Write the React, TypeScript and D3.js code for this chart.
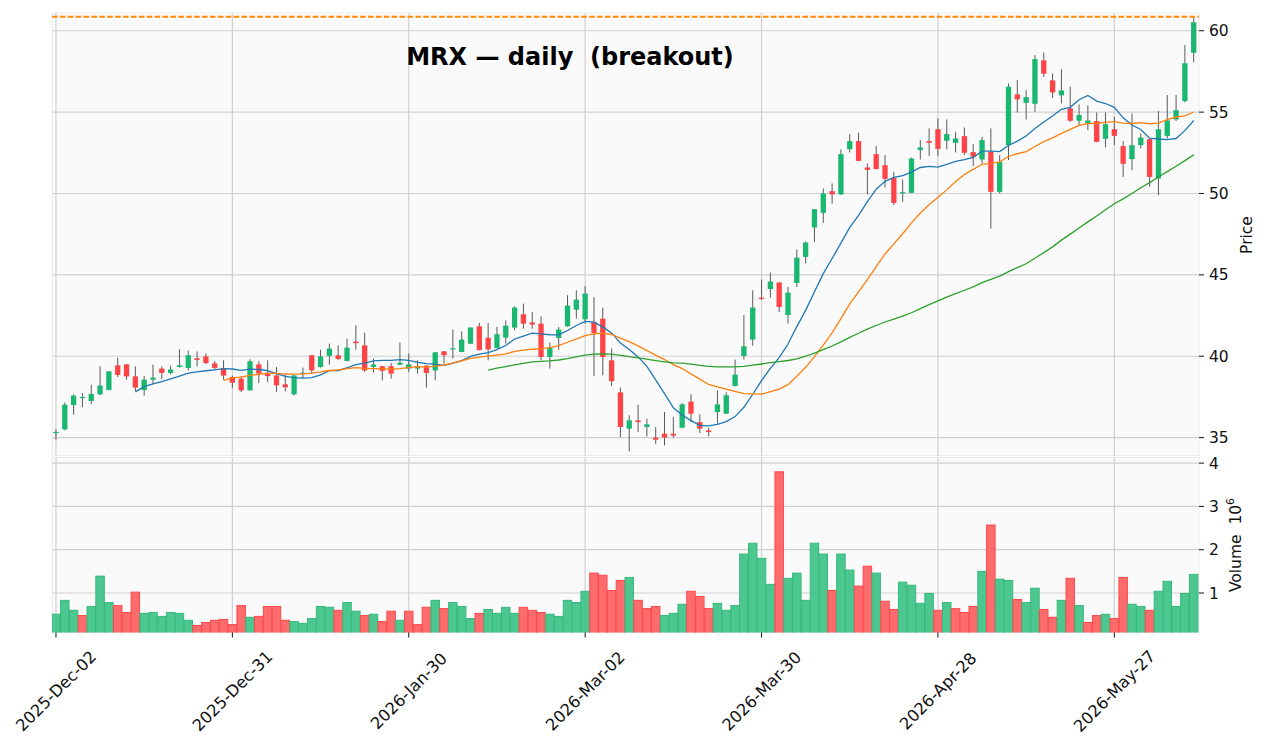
import * as d3 from "d3";

// OHLC, one value per trading day
const opens = [
  35.28, 35.5, 37.0, 37.45, 37.25, 37.66, 37.92, 39.44, 39.5, 38.76,
  37.92, 38.56, 39.24, 38.97, 39.34, 39.28, 39.87, 39.99, 39.56, 39.28,
  38.72, 38.62, 37.9, 39.5, 38.99, 38.82, 38.27, 37.66, 38.93, 40.06,
  39.34, 40.02, 40.06, 39.71, 40.9, 40.67, 39.34, 39.38, 39.38, 39.48,
  39.24, 39.24, 39.42, 39.13, 40.3, 40.45, 40.26, 40.77, 41.84, 41.14,
  40.5, 41.14, 41.76, 42.58, 42.08, 42.0, 39.95, 41.12, 41.84, 42.86,
  42.27, 42.1, 42.31, 39.75, 37.78, 35.55, 36.06, 35.65, 35.0, 35.24,
  35.24, 35.61, 37.21, 35.95, 35.44, 36.57, 36.47, 38.17, 40.01, 41.02,
  43.6, 44.13, 44.53, 42.53, 44.5, 46.1, 47.91, 48.81, 50.14, 49.94,
  52.72, 53.22, 51.6, 52.42, 51.74, 50.96, 50.03, 50.04, 52.66, 53.22,
  53.95, 53.24, 53.11, 53.52, 52.54, 52.09, 52.56, 50.1, 52.97, 56.09,
  55.57, 55.51, 58.18, 56.95, 56.03, 55.23, 54.47, 54.32, 54.45, 53.36,
  53.95, 52.91, 52.11, 52.97, 53.34, 50.92, 53.54, 54.55, 55.68, 58.65,
];
const highs = [
  35.5, 37.15, 37.66, 37.74, 38.25, 39.38, 39.1, 39.91, 39.52, 39.38,
  38.78, 39.49, 39.38, 39.42, 40.43, 40.35, 40.29, 40.17, 39.71, 39.75,
  38.8, 38.78, 39.81, 39.69, 39.75, 39.34, 38.93, 38.85, 39.3, 40.08,
  40.4, 40.77, 40.67, 41.08, 41.9, 41.45, 39.85, 39.4, 39.58, 40.84,
  40.16, 39.75, 39.45, 40.26, 40.32, 41.64, 41.53, 41.78, 42.04, 42.04,
  41.8, 42.2, 43.07, 43.23, 42.72, 42.45, 40.84, 41.8, 43.75, 44.05,
  44.3, 43.63, 42.99, 40.47, 38.07, 36.37, 37.02, 36.16, 35.65, 36.57,
  36.26, 37.12, 37.66, 36.43, 35.61, 37.9, 37.78, 39.79, 42.52, 44.05,
  44.71, 45.14, 44.55, 44.26, 46.56, 47.05, 49.05, 50.31, 50.62, 52.71,
  53.65, 53.75, 51.84, 52.91, 52.36, 51.33, 50.86, 52.2, 53.28, 54.0,
  54.61, 54.55, 53.79, 54.06, 53.03, 53.48, 54.0, 52.36, 56.76, 56.97,
  56.35, 58.51, 58.67, 57.38, 57.64, 56.56, 55.47, 55.41, 54.98, 54.98,
  54.71, 53.22, 54.92, 53.69, 53.36, 55.06, 56.05, 56.05, 59.12, 60.86,
];
const lows = [
  34.87, 35.45, 36.41, 36.88, 37.07, 37.6, 37.9, 38.72, 38.56, 37.86,
  37.58, 38.31, 38.6, 38.87, 39.3, 39.13, 39.38, 39.52, 39.18, 38.56,
  38.04, 37.8, 37.88, 38.35, 38.41, 37.8, 37.84, 37.58, 38.66, 38.93,
  39.3, 39.48, 39.75, 39.69, 40.4, 39.03, 39.0, 38.52, 38.62, 39.45,
  39.03, 38.93, 38.07, 38.52, 39.54, 39.85, 40.24, 40.75, 40.36, 39.75,
  40.48, 40.77, 41.59, 41.69, 41.69, 39.75, 39.24, 40.4, 41.82, 42.31,
  42.0, 38.78, 38.83, 38.17, 35.03, 34.15, 35.34, 35.07, 34.62, 34.52,
  35.0, 35.58, 35.95, 35.28, 35.07, 35.85, 36.45, 38.15, 39.79, 40.65,
  43.45, 43.6, 42.72, 42.0, 44.26, 45.7, 47.02, 48.19, 49.38, 49.92,
  52.52, 51.98, 49.94, 51.48, 50.37, 49.28, 49.48, 50.02, 52.09, 52.31,
  52.29, 52.71, 52.52, 52.36, 51.68, 51.84, 47.85, 50.0, 52.05, 54.98,
  54.55, 55.02, 57.17, 55.88, 55.53, 54.4, 54.2, 53.89, 53.15, 52.83,
  52.97, 51.02, 51.43, 52.77, 50.41, 49.9, 53.38, 54.45, 55.6, 58.06,
];
const closes = [
  35.35, 37.02, 37.58, 37.5, 37.68, 38.2, 39.07, 38.85, 38.76, 38.07,
  38.56, 38.69, 38.97, 39.18, 39.44, 40.06, 39.77, 39.58, 39.28, 38.81,
  38.37, 37.9, 39.69, 38.93, 38.78, 38.21, 38.09, 38.82, 38.99, 39.13,
  39.99, 40.47, 39.83, 40.53, 40.8, 39.13, 39.5, 39.1, 38.93, 39.6,
  39.5, 39.34, 38.97, 40.24, 40.06, 40.49, 41.02, 41.76, 40.38, 40.42,
  41.35, 41.88, 42.99, 42.0, 41.94, 39.95, 40.53, 41.64, 43.11, 43.48,
  43.85, 41.43, 39.95, 38.47, 35.65, 36.06, 35.95, 35.81, 34.87, 35.0,
  35.12, 37.04, 36.47, 35.55, 35.34, 37.04, 37.6, 38.87, 40.61, 42.99,
  43.52, 44.59, 43.03, 43.91, 46.06, 46.99, 49.03, 50.0, 49.94, 52.42,
  53.22, 52.0, 51.45, 51.5, 50.9, 49.42, 50.08, 52.15, 52.83, 53.11,
  52.74, 53.65, 53.38, 52.5, 52.25, 53.28, 50.1, 51.93, 56.56, 55.78,
  55.92, 58.26, 57.36, 56.21, 56.33, 54.47, 54.82, 54.49, 53.17, 54.26,
  53.54, 51.82, 52.97, 53.44, 51.02, 53.95, 54.49, 55.12, 58.0, 60.52,
];
// volume in millions
const volumes = [
  0.51, 0.83, 0.6, 0.48, 0.69, 1.39, 0.78, 0.71, 0.55, 1.02,
  0.53, 0.55, 0.46, 0.55, 0.53, 0.37, 0.25, 0.32, 0.37, 0.39,
  0.27, 0.71, 0.44, 0.46, 0.69, 0.69, 0.37, 0.34, 0.3, 0.41,
  0.69, 0.67, 0.6, 0.78, 0.58, 0.48, 0.51, 0.34, 0.58, 0.37,
  0.58, 0.27, 0.67, 0.83, 0.64, 0.78, 0.69, 0.41, 0.53, 0.62,
  0.53, 0.67, 0.53, 0.67, 0.6, 0.55, 0.51, 0.46, 0.83, 0.78,
  1.04, 1.46, 1.41, 1.06, 1.29, 1.36, 0.83, 0.64, 0.69, 0.48,
  0.53, 0.74, 1.04, 0.92, 0.64, 0.76, 0.6, 0.71, 1.9, 2.15,
  1.8, 1.2, 3.8, 1.34, 1.46, 0.83, 2.15, 1.9, 1.06, 1.9,
  1.53, 1.16, 1.62, 1.46, 0.81, 0.62, 1.25, 1.18, 0.76, 0.99,
  0.6, 0.78, 0.64, 0.55, 0.69, 1.5, 2.57, 1.32, 1.29, 0.85,
  0.78, 1.11, 0.62, 0.44, 0.83, 1.34, 0.71, 0.32, 0.48, 0.51,
  0.41, 1.36, 0.74, 0.69, 0.6, 1.04, 1.27, 0.69, 0.99, 1.43,
];

const tickIdx = [0, 20, 40, 60, 80, 100, 120];
const tickLabels = [
  "2025-Dec-02", "2025-Dec-31", "2026-Jan-30", "2026-Mar-02",
  "2026-Mar-30", "2026-Apr-28", "2026-May-27",
];
const priceTicks = [35, 40, 45, 50, 55, 60];
const volumeTicks = [1, 2, 3, 4];
const mavPeriods = [10, 20, 50];
const mavColors = ["#1f77b4", "#ff7f0e", "#2ca02c"];
const breakoutLevel = 60.86;

const upColor = "#19b76f";
const downColor = "#fe4446";
const font = "DejaVu Sans, sans-serif";

export default function App() {
  const width = 1267;
  const height = 747;
  const left = 52;
  const right = 1199;
  const priceTop = 13;
  const priceBottom = 455.5;
  const volTop = 457.5;
  const volBottom = 632.5;

  const x = d3.scaleLinear().domain([-0.45, closes.length - 0.4]).range([left, right]);
  const step = x(1) - x(0);
  const yP = d3.scaleLinear().domain([33.9, 61.09]).range([priceBottom, priceTop]);
  const yV = d3.scaleLinear().domain([0.088, 4.13]).range([volBottom, volTop]);

  const movingAverages = mavPeriods.map((n) =>
    closes.map((_, i) => (i < n - 1 ? null : d3.mean(closes.slice(i - n + 1, i + 1)) ?? null))
  );
  const maLine = d3
    .line<number | null>()
    .defined((d) => d != null)
    .x((_, i) => x(i))
    .y((d) => yP(d as number));

  const bodyW = step * 0.6;
  const volW = step * 0.96;

  return (
    <div style={{ position: "absolute", left: 0, top: 0 }}>
      <svg width={width} height={height} style={{ display: "block", background: "#ffffff" }}>
        <defs>
          <clipPath id="price-clip">
            <rect x={left} y={priceTop} width={right - left} height={priceBottom - priceTop} />
          </clipPath>
          <clipPath id="vol-clip">
            <rect x={left} y={volTop} width={right - left} height={volBottom - volTop} />
          </clipPath>
        </defs>

        {/* panels */}
        <rect x={left} y={priceTop} width={right - left} height={priceBottom - priceTop} fill="#fafafa" stroke="#ececec" />
        <rect x={left} y={volTop} width={right - left} height={volBottom - volTop} fill="#fafafa" stroke="#ececec" />

        {/* grid */}
        {priceTicks.map((t) => (
          <line key={`pg${t}`} x1={left} x2={right} y1={yP(t)} y2={yP(t)} stroke="#d0d0d0" strokeWidth={1.2} />
        ))}
        {volumeTicks.map((t) => (
          <line key={`vg${t}`} x1={left} x2={right} y1={yV(t)} y2={yV(t)} stroke="#d0d0d0" strokeWidth={1.2} />
        ))}
        {tickIdx.map((t) => (
          <g key={`xg${t}`}>
            <line x1={x(t)} x2={x(t)} y1={priceTop} y2={priceBottom} stroke="#d0d0d0" strokeWidth={1.2} />
            <line x1={x(t)} x2={x(t)} y1={volTop} y2={volBottom} stroke="#d0d0d0" strokeWidth={1.2} />
          </g>
        ))}

        {/* candles */}
        <g clipPath="url(#price-clip)">
          {closes.map((c, i) => (
            <line key={`w${i}`} x1={x(i)} x2={x(i)} y1={yP(highs[i])} y2={yP(lows[i])} stroke="#5a5a5a" strokeWidth={1} />
          ))}
          {closes.map((c, i) => {
            const up = c >= opens[i];
            const top = yP(Math.max(c, opens[i]));
            const h = Math.max(1.2, Math.abs(yP(c) - yP(opens[i])));
            return (
              <rect key={`b${i}`} x={x(i) - bodyW / 2} y={top} width={bodyW} height={h} fill={up ? upColor : downColor} />
            );
          })}
          {movingAverages.map((ma, k) => (
            <path key={`ma${k}`} d={maLine(ma) ?? ""} fill="none" stroke={mavColors[k]} strokeWidth={1.3} />
          ))}
          <line
            x1={left}
            x2={right}
            y1={yP(breakoutLevel)}
            y2={yP(breakoutLevel)}
            stroke="#ff8c00"
            strokeWidth={2}
            strokeDasharray="5.5 2.4"
          />
        </g>

        {/* volume */}
        <g clipPath="url(#vol-clip)">
          {volumes.map((v, i) => {
            const up = i === 0 ? closes[0] >= opens[0] : closes[i] >= closes[i - 1];
            return (
              <rect
                key={`v${i}`}
                x={x(i) - volW / 2}
                y={yV(v)}
                width={volW}
                height={volBottom + 2 - yV(v)}
                fill={up ? "#4dc790" : "#fd6b6c"}
                stroke={up ? "#35b97c" : "#fc4a4b"}
                strokeWidth={1}
              />
            );
          })}
        </g>

        {/* title */}
        <text
          x={570}
          y={65}
          textAnchor="middle"
          fontFamily={font}
          fontWeight="bold"
          fontSize={24}
          fill="#000"
          style={{ whiteSpace: "pre" }}
        >
          {"MRX — daily  (breakout)"}
        </text>

        {/* right axis: price */}
        {priceTicks.map((t) => (
          <g key={`pt${t}`}>
            <line x1={right} x2={right + 5} y1={yP(t)} y2={yP(t)} stroke="#101010" strokeWidth={1} />
            <text x={right + 10} y={yP(t)} dy="0.36em" fontFamily={font} fontSize={15.5} fill="#101010">
              {t}
            </text>
          </g>
        ))}
        <text
          transform="translate(1252,235) rotate(-90)"
          textAnchor="middle"
          fontFamily={font}
          fontSize={15.5}
          fill="#101010"
        >
          Price
        </text>

        {/* right axis: volume */}
        {volumeTicks.map((t) => (
          <g key={`vt${t}`}>
            <line x1={right} x2={right + 5} y1={yV(t)} y2={yV(t)} stroke="#101010" strokeWidth={1} />
            <text x={right + 10} y={yV(t)} dy="0.36em" fontFamily={font} fontSize={15.5} fill="#101010">
              {t}
            </text>
          </g>
        ))}
        <text
          transform="translate(1241,545) rotate(-90)"
          textAnchor="middle"
          fontFamily={font}
          fontSize={15.5}
          fill="#101010"
          style={{ whiteSpace: "pre" }}
        >
          {"Volume  10"}
          <tspan dy="-7" fontSize={11}>6</tspan>
        </text>

        {/* x axis */}
        {tickIdx.map((t, k) => (
          <g key={`xt${t}`}>
            <line x1={x(t)} x2={x(t)} y1={volBottom} y2={volBottom + 5} stroke="#101010" strokeWidth={1} />
            <text
              transform={`translate(${x(t)},691) rotate(-45)`}
              textAnchor="middle"
              dy="0.35em"
              fontFamily={font}
              fontSize={16.3}
              fill="#101010"
            >
              {tickLabels[k]}
            </text>
          </g>
        ))}
      </svg>
    </div>
  );
}
